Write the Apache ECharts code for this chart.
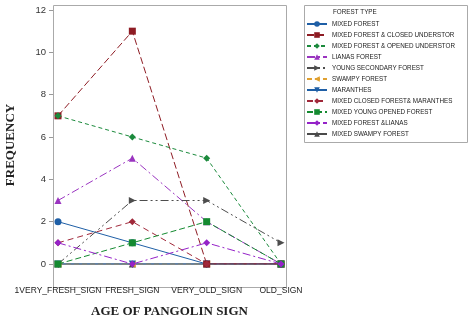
<!DOCTYPE html>
<html><head><meta charset="utf-8">
<script src="https://cdn.jsdelivr.net/npm/echarts@6/dist/echarts.min.js"></script>
<style>html,body{margin:0;padding:0;background:#fff}#c{width:473px;height:323px}</style>
</head><body><div id="c"></div>
<script>
const categories = ['1VERY_FRESH_SIGN', 'FRESH_SIGN', 'VERY_OLD_SIGN', 'OLD_SIGN'];
const yTicks = [0, 2, 4, 6, 8, 10, 12];
const seriesNames = ['MIXED FOREST', 'MIXED FOREST & CLOSED UNDERSTOR', 'MIXED FOREST & OPENED UNDERSTOR', 'LIANAS FOREST', 'YOUNG SECONDARY FOREST', 'SWAMPY FOREST', 'MARANTHES', 'MIXED CLOSED FOREST& MARANTHES', 'MIXED YOUNG OPENED FOREST', 'MIXED FOREST &LIANAS', 'MIXED SWAMPY FOREST'];
const mixedForest = [2, 1, 0, 0];
const closedUnderstor = [7, 11, 0, 0];
const openedUnderstor = [7, 6, 5, 0];
const lianasForest = [3, 5, 2, 0];
const youngSecondary = [0, 3, 3, 1];
const swampyForest = [0, 0, 0, 0];
const maranthes = [0, 0, 0, 0];
const closedMaranthes = [1, 2, 0, 0];
const youngOpened = [0, 1, 2, 0];
const forestLianas = [1, 0, 1, 0];
const mixedSwampy = [0, 0, 0, 0];
const seriesValues = [mixedForest, closedUnderstor, openedUnderstor, lianasForest, youngSecondary, swampyForest, maranthes, closedMaranthes, youngOpened, forestLianas, mixedSwampy];

const colors = ['#1f5fa6', '#8e1c24', '#1b8a3c', '#9a34c0', '#4d4d4d', '#e0a030', '#1f5fa6', '#a0283a', '#148a30', '#9522c8', '#4a4a4a'];
const symbols = ['circle', 'rect', 'diamond', 'triangle', 'path://M0,0 L10,5 L0,10 Z', 'path://M10,0 L0,5 L10,10 Z', 'path://M0,0 L10,0 L5,10 Z', 'diamond', 'rect', 'diamond', 'triangle'];
const dashes = ['solid', [7, 3], [4, 3], [8, 3, 2, 3], [8, 3, 2, 3, 2, 3], [5, 3], 'solid', [6, 4], [6, 3], [8, 3, 2, 3], 'solid'];
const zs = [3, 3, 3, 3, 3, 2, 2, 4, 5, 6, 1];

const sans = '"Liberation Sans", Arial, sans-serif';
const serif = '"Liberation Serif", "DejaVu Serif", serif';
const chart = echarts.init(document.getElementById('c'), null, {renderer: 'canvas'});
chart.setOption({
  animation: false,
  backgroundColor: '#fff',
  grid: {left: 58, right: 192, top: 10, bottom: 50, containLabel: false},
  xAxis: {
    type: 'category', data: categories, boundaryGap: false, offset: 14,
    axisLine: {show: true, lineStyle: {color: '#aaa'}},
    axisTick: {show: true, length: 4, lineStyle: {color: '#999'}},
    axisLabel: {margin: 8, fontFamily: sans, fontSize: 8.5, color: '#222', interval: 0},
    splitLine: {show: false},
    name: 'AGE OF PANGOLIN SIGN', nameLocation: 'middle', nameGap: 27,
    nameTextStyle: {fontFamily: serif, fontWeight: 'bold', fontSize: 13, color: '#222'}
  },
  yAxis: {
    type: 'value', min: 0, max: 12, interval: 2, offset: 5,
    axisLine: {show: true, lineStyle: {color: '#aaa'}},
    axisTick: {show: true, length: 4, lineStyle: {color: '#999'}},
    axisLabel: {margin: 7, fontFamily: sans, fontSize: 9.5, color: '#333', formatter: v => yTicks.includes(v) ? String(v) : ''},
    splitLine: {show: false}
  },
  legend: {
    orient: 'vertical', left: 306, top: 19, padding: 0, itemGap: 1,
    itemWidth: 20, itemHeight: 7,
    textStyle: {fontFamily: sans, fontSize: 6.3, color: '#222', lineHeight: 10},
    data: seriesNames
  },
  graphic: [
    {type: 'rect', shape: {x: 53.5, y: 5.5, width: 233, height: 282}, style: {fill: null, stroke: '#aaa', lineWidth: 1}, silent: true},
    {type: 'rect', shape: {x: 304.5, y: 5.5, width: 163, height: 137}, style: {fill: null, stroke: '#aaa', lineWidth: 1}, silent: true, z: 0},
    {type: 'text', left: 333, top: 9, style: {text: 'FOREST TYPE', fontFamily: sans, fontSize: 6.3, fill: '#222'}},
    {type: 'text', x: 11, y: 145, rotation: Math.PI / 2, style: {text: 'FREQUENCY', fontFamily: serif, fontWeight: 'bold', fontSize: 13, fill: '#222', align: 'center', verticalAlign: 'middle'}}
  ],
  series: seriesNames.map((n, i) => ({
    name: n, type: 'line', data: seriesValues[i], z: zs[i],
    symbol: symbols[i], symbolSize: 7, showSymbol: true,
    lineStyle: {color: colors[i], width: 1, type: dashes[i]},
    itemStyle: {color: colors[i]}
  }))
});
</script></body></html>
